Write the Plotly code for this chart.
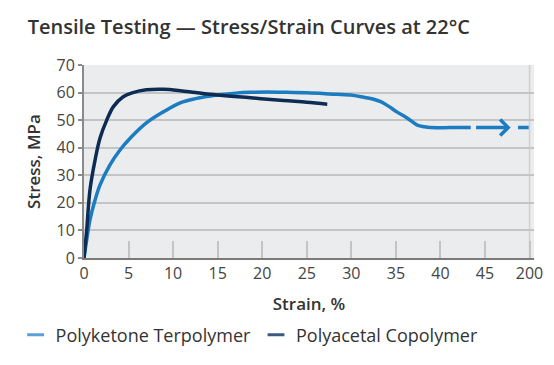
import plotly.graph_objects as go

# --- data ---
strain_pk = [0, 0.3, 0.67, 1.24, 1.8, 2.9, 4.0, 5.2, 7.0, 8.9, 10.8, 12.5, 14.9, 17.0,
             18.7, 20.5, 22.4, 25.0, 27.6, 29.9, 31.4, 32.5, 33.3, 34.2, 35.1, 36.3,
             37.4, 38.2, 38.9, 41.1, 43.4]
stress_pk = [0, 6.5, 13.8, 21, 26.5, 33.7, 39, 43.5, 49, 53, 56.3, 57.8, 59.1, 59.8,
             60.1, 60.2, 60.1, 59.9, 59.5, 59.1, 58.3, 57.6, 56.7, 55.0, 53.0, 50.7,
             48.2, 47.6, 47.3, 47.3, 47.3]
strain_pk_ext = [44.0, 49.9]
stress_pk_ext = [47.3, 47.3]
arrow_tip = 47.6

strain_pa = [0, 0.3, 0.67, 1.24, 1.8, 2.55, 3.3, 4.4, 5.5, 7.0, 8.9, 10.8, 12.5, 14.9,
             18.7, 22.4, 25.0, 27.3]
stress_pa = [0, 10, 24.7, 35.5, 43.5, 50, 54.9, 58.5, 60, 61, 61.2, 60.7, 60, 59.1,
             58.1, 57.1, 56.5, 55.8]

x_tickvals = [0, 5, 10, 15, 20, 25, 30, 35, 40, 45, 50]
x_ticktext = ["0", "5", "10", "15", "20", "25", "30", "35", "40", "45", "200"]
y_tickvals = [0, 10, 20, 30, 40, 50, 60, 70]

names = ["Polyketone Terpolymer", "Polyacetal Copolymer"]
c_pk = "#1b7cc1"
c_pa = "#0d2c54"
FONT = "Open Sans"

fig = go.Figure()
fig.add_trace(go.Scatter(x=strain_pk, y=stress_pk, mode="lines", line=dict(color=c_pk, width=3.5, shape="spline"),
                         showlegend=False, hoverinfo="skip"))
fig.add_trace(go.Scatter(x=strain_pk_ext, y=stress_pk_ext, mode="lines",
                         line=dict(color=c_pk, width=3.5, dash="31px,11px,11px,200px"),
                         showlegend=False, hoverinfo="skip"))
# chevron arrow head
dx, dy = 0.9, 2.9
fig.add_trace(go.Scatter(x=[arrow_tip - dx, arrow_tip, arrow_tip - dx],
                         y=[stress_pk_ext[0] + dy, stress_pk_ext[0], stress_pk_ext[0] - dy],
                         mode="lines", line=dict(color=c_pk, width=3.5), showlegend=False, hoverinfo="skip"))
fig.add_trace(go.Scatter(x=strain_pa, y=stress_pa, mode="lines", line=dict(color=c_pa, width=3.5, shape="spline"),
                         showlegend=False, hoverinfo="skip"))
# legend entries
for nm, c in zip(names, ["#5a9fd8", "#3a5a80"]):
    fig.add_trace(go.Scatter(x=[None], y=[None], mode="markers", name=nm,
                             marker=dict(symbol="line-ew", size=12, line=dict(color=c, width=3))))

fig.add_shape(type="line", x0=x_tickvals[-1], x1=x_tickvals[-1], y0=0, y1=1, xref="x", yref="paper",
              line=dict(color="#cfcfcf", width=1.5), layer="below")

fig.update_layout(
    width=554, height=365,
    margin=dict(l=84, r=20, t=65, b=107),
    paper_bgcolor="white", plot_bgcolor="#ebecee",
    font=dict(family=FONT, color="#444444", size=14),
    title=dict(text="Tensile Testing — Stress/Strain Curves at 22°C", x=0.05, xanchor="left",
               y=0.926, yanchor="middle", font=dict(family=FONT, size=20, color="#333333", weight=600)),
    legend=dict(orientation="h", x=-0.152, xanchor="left", y=-0.399, yanchor="middle",
                font=dict(size=18, color="#333333"), itemwidth=30, tracegroupgap=0),
    xaxis=dict(range=[0, 50.5], tickvals=x_tickvals, ticktext=x_ticktext, showgrid=False,
               ticks="inside", ticklen=17, tickwidth=2, tickcolor="#c4c4c4", automargin=False,
               showline=True, linecolor="#7a7a7a", linewidth=2, zeroline=False,
               title=dict(text="Strain, %", standoff=15, font=dict(size=17, color="#333333", weight=600)),
               tickfont=dict(size=16, color="#444444")),
    yaxis=dict(range=[0, 70], tickvals=y_tickvals, showgrid=True, gridcolor="#c4c4c4", gridwidth=1.5,
               ticks="outside", ticklen=4, tickwidth=2, tickcolor="#8a8a8a", automargin=False,
               showline=True, linecolor="#8a8a8a", linewidth=2, zeroline=False,
               title=dict(text="Stress, MPa", standoff=12, font=dict(size=17, color="#333333", weight=600)),
               tickfont=dict(size=16, color="#444444")),
)

fig.write_html("out.html", config={"displayModeBar": False},
               post_script="document.body.style.margin='0';")
